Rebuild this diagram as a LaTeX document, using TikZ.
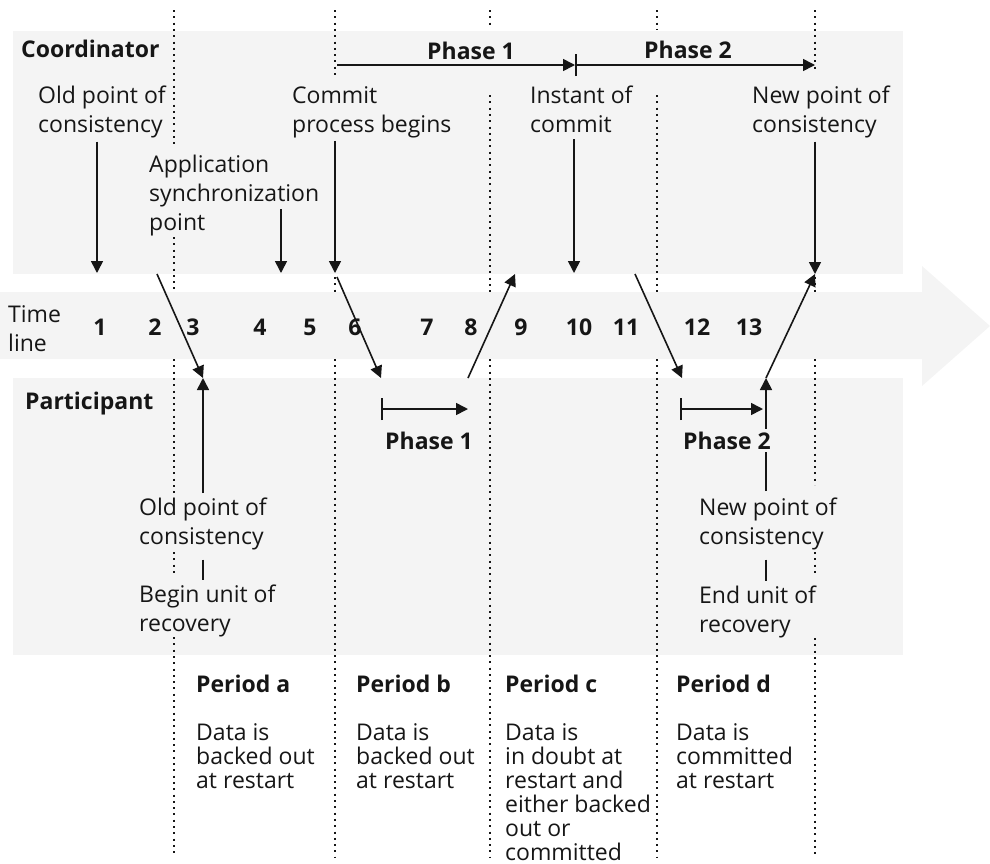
\documentclass[tikz,border=0pt]{standalone}
\usepackage{fontspec}
\setmainfont{Open Sans}
\usepackage{tikz}
\usetikzlibrary{arrows.meta,calc}
\definecolor{panelgray}{HTML}{F4F4F4}
\definecolor{inkblack}{HTML}{161616}
\tikzset{
    >={Triangle[length=12pt,width=12pt]},
    notetext/.style={
        align=left,
        anchor=north west,
        inner sep=0pt,
        text=inkblack,
        font={\fontsize{23pt}{29pt}\selectfont}
    },
    heading/.style={
        anchor=base west,
        inner sep=0pt,
        text=inkblack,
        font={\fontsize{23pt}{29pt}\selectfont\bfseries}
    },
    periodtext/.style={
        align=left,
        anchor=north west,
        inner sep=0pt,
        text=inkblack,
        font={\fontsize{23pt}{24pt}\selectfont}
    },
    flow/.style={draw=inkblack, line width=1.6pt, ->},
    stem/.style={draw=inkblack, line width=1.6pt},
    guide/.style={draw=inkblack, line width=2pt, dash pattern=on 2pt off 4.3pt},
}

\begin{document}
\begin{tikzpicture}[x=1pt,y=-1pt]
\tikzstyle{tick} = [anchor=base, inner sep=0pt, text=inkblack, font={\fontsize{23pt}{29pt}\selectfont\bfseries}]
\tikzstyle{phasebar} = [flow, {Bar[width=22pt]}->]
\useasboundingbox (0,0) rectangle (990,863);

% Panels
\fill[panelgray] (13,31) rectangle (903,274);
\fill[panelgray] (13,378) rectangle (903,655);
\fill[panelgray] (0,292) -- (922,292) -- (922,266) -- (990,326)
    -- (922,386) -- (922,359) -- (0,359) -- cycle;

% Period boundaries
\foreach \x/\a/\b in {174/10/145, 174/237/292, 174/359/493, 174/552/577, 174/637/857,
    335/10/78, 335/277/292, 335/359/857,
    490/10/28, 490/95/292, 490/359/857,
    657/10/30, 657/95/292, 657/359/857,
    815/10/70, 815/277/292, 815/359/485, 815/552/577, 815/638/857}
    \draw[guide] (\x,\a) -- (\x,\b);

% Headings
\node[heading] (coord) at (21,57) {Coordinator};
\node[heading] (part) at (25,409) {Participant};

% Time line
\node[notetext] (timeline) at (8,305) {Time\\line};
\foreach \n/\x in {1/100, 2/155, 3/193, 4/260, 5/310, 6/355, 7/427,
    8/471, 9/521, 10/579, 11/626, 12/697, 13/749}
    \node[tick] (t\n) at (\x,335) {\n};

% Coordinator phases
\coordinate (cphs) at (337,65);
\coordinate (cphm) at (575,65);
\coordinate (cphe) at (815,65);
\draw[flow] (cphs) -- (cphm);
\draw[phasebar] (cphm) -- (cphe);
\node[heading, anchor=base] (cph1) at (471,59) {Phase 1};
\node[heading, anchor=base] (cph2) at (688,58) {Phase 2};

% Coordinator events
\node[notetext] (oldc) at (38,86) {Old point of\\consistency};
\node[notetext] (appsync) at (149,155) {Application\\synchronization\\point};
\node[notetext] (commit) at (292,86) {Commit\\process begins};
\node[notetext] (instant) at (530,86) {Instant of\\commit};
\node[notetext] (newc) at (752,86) {New point of\\consistency};

\coordinate (c1) at (97,273);
\coordinate (c4top) at (281,209);
\coordinate (c4) at (281,273);
\coordinate (c6) at (335,273);
\coordinate (c9) at (515,274);
\coordinate (c10) at (574,273);
\coordinate (c11) at (635,274);
\coordinate (c13) at (815,274);
\coordinate (c2) at (157,274);
\coordinate (c6b) at (337,277);

\draw[flow, shorten <=3pt] (c1 |- oldc.south) -- (c1);
\draw[flow] (c4top) -- (c4);
\draw[flow, shorten <=3pt] (c6 |- commit.south) -- (c6);
\draw[flow, shorten <=6pt] (c10 |- instant.south) -- (c10);
\draw[flow, shorten <=3pt] (c13 |- newc.south) -- (c13);

% Participant
\coordinate (p3) at (203,378);
\coordinate (p6) at (381,378);
\coordinate (p8) at (468,378);
\coordinate (p11) at (682,378);
\coordinate (p13) at (766,378);

\draw[flow] (c2) -- (p3);
\draw[flow] (c6b) -- (p6);
\draw[flow] (p8) -- (c9);
\draw[flow] (c11) -- (p11);
\draw[flow] (p13) -- (c13);

\coordinate (pph1s) at (381,409);
\coordinate (pph1e) at (468,409);
\coordinate (pph2s) at (680,409);
\coordinate (pph2e) at (763,409);
\draw[phasebar] (pph1s) -- (pph1e);
\draw[phasebar] (pph2s) -- (pph2e);

\node[notetext] (oldp) at (139,498) {Old point of\\consistency};
\node[notetext] (beginp) at (139,585) {Begin unit of\\recovery};
\node[notetext] (newp) at (699,498) {New point of\\consistency};
\node[notetext] (endp) at (699,586) {End unit of\\recovery};

\draw[flow, shorten <=5pt] (p3 |- oldp.north) -- (p3);
\draw[flow, shorten <=7pt] (p13 |- newp.north) -- (p13);
\draw[stem, shorten <=9pt, shorten >=5pt] (p3 |- oldp.south) -- (p3 |- beginp.north);
\draw[stem, shorten <=9pt, shorten >=5pt] (p13 |- newp.south) -- (p13 |- endp.north);

\node[heading, anchor=base] (pph1) at (429,449) {Phase 1};
\node[heading, anchor=base, fill=panelgray, inner sep=3pt] (pph2) at (727,449) {Phase 2};

% Periods
\node[heading] (pera) at (196,692) {Period a};
\node[heading] (perb) at (356,692) {Period b};
\node[heading] (perc) at (505,692) {Period c};
\node[heading] (perd) at (676,692) {Period d};
\node[periodtext] (dataa) at (196,723) {Data is\\backed out\\at restart};
\node[periodtext] (datab) at (356,723) {Data is\\backed out\\at restart};
\node[periodtext] (datac) at (505,723) {Data is\\in doubt at\\restart and\\either backed\\out or\\committed};
\node[periodtext] (datad) at (676,723) {Data is\\committed\\at restart};
\end{tikzpicture}
\end{document}
